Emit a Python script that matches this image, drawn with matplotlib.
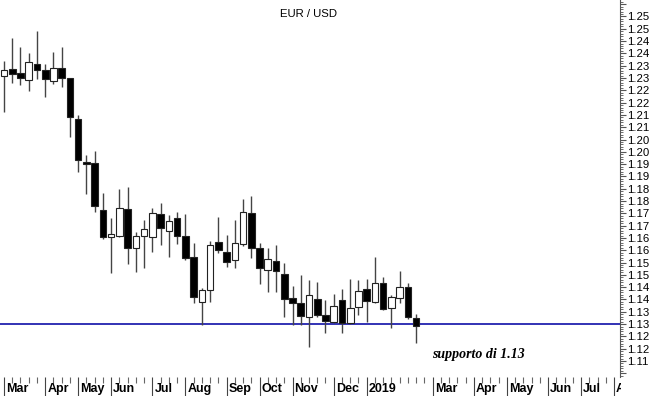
import math
import matplotlib
matplotlib.use("Agg")
import matplotlib.pyplot as plt
import matplotlib.dates as mdates
import matplotlib.transforms as mtransforms
from matplotlib.patches import Rectangle
import pandas as pd
from matplotlib.ticker import MultipleLocator, FuncFormatter

plt.rcParams['font.family'] = ['Liberation Sans', 'DejaVu Sans']

# settimane (venerdi) e prezzi OHLC
weeks = pd.date_range("2018-03-02", periods=51, freq="W-FRI")
opens = [1.2307, 1.2335, 1.2319, 1.2293, 1.2357, 1.2333, 1.2287, 1.2339, 1.2299, 1.2133,
         1.1957, 1.1953, 1.1763, 1.1652, 1.1658, 1.1767, 1.1608, 1.1659, 1.1652, 1.1747,
         1.1678, 1.1730, 1.1659, 1.1571, 1.1388, 1.1438, 1.1632, 1.1594, 1.1560, 1.1624,
         1.1750, 1.1608, 1.1520, 1.1556, 1.1503, 1.1404, 1.1387, 1.1327, 1.1400, 1.1337,
         1.1309, 1.1398, 1.1303, 1.1368, 1.1442, 1.1391, 1.1465, 1.1366, 1.1404, 1.1449,
         1.1323]
closes = [1.2331, 1.2317, 1.2301, 1.2365, 1.2334, 1.2295, 1.2342, 1.2301, 1.2140, 1.1967,
          1.1949, 1.1780, 1.1652, 1.1666, 1.1770, 1.1610, 1.1659, 1.1686, 1.1750, 1.1689,
          1.1719, 1.1659, 1.1567, 1.1409, 1.1438, 1.1621, 1.1601, 1.1553, 1.1628, 1.1754,
          1.1610, 1.1526, 1.1563, 1.1517, 1.1402, 1.1384, 1.1333, 1.1418, 1.1337, 1.1312,
          1.1373, 1.1305, 1.1364, 1.1434, 1.1393, 1.1465, 1.1360, 1.1411, 1.1452, 1.1327,
          1.1292]
highs = [1.2369, 1.2461, 1.2427, 1.2403, 1.2491, 1.2356, 1.2407, 1.2425, 1.2302, 1.2150,
         1.1987, 1.2004, 1.1831, 1.1730, 1.1848, 1.1858, 1.1675, 1.1723, 1.1770, 1.1793,
         1.1743, 1.1754, 1.1746, 1.1628, 1.1445, 1.1639, 1.1736, 1.1662, 1.1723, 1.1807,
         1.1820, 1.1630, 1.1610, 1.1621, 1.1549, 1.1454, 1.1499, 1.1479, 1.1472, 1.1398,
         1.1421, 1.1441, 1.1482, 1.1479, 1.1482, 1.1571, 1.1492, 1.1418, 1.1517, 1.1468,
         1.1339]
lows = [1.2163, 1.2281, 1.2272, 1.2248, 1.2296, 1.2224, 1.2274, 1.2262, 1.2061, 1.1917,
        1.1827, 1.1755, 1.1644, 1.1509, 1.1655, 1.1543, 1.1510, 1.1526, 1.1594, 1.1621,
        1.1574, 1.1625, 1.1560, 1.1384, 1.1296, 1.1391, 1.1587, 1.1530, 1.1526, 1.1618,
        1.1567, 1.1463, 1.1431, 1.1431, 1.1330, 1.1296, 1.1296, 1.1208, 1.1330, 1.1262,
        1.1305, 1.1265, 1.1300, 1.1337, 1.1309, 1.1384, 1.1357, 1.1285, 1.1387, 1.1320,
        1.1224]

support = 1.13
month_starts = ["2018-03-02", "2018-04-06", "2018-05-04", "2018-06-01", "2018-07-06",
                "2018-08-03", "2018-09-07", "2018-10-05", "2018-11-02", "2018-12-07",
                "2019-01-04", "2019-03-01", "2019-04-05", "2019-05-03", "2019-06-07",
                "2019-07-05", "2019-08-02"]
month_labels = ["Mar", "Apr", "May", "Jun", "Jul", "Aug", "Sep", "Oct", "Nov", "Dec",
                "2019", "Mar", "Apr", "May", "Jun", "Jul", "Aug"]

fig = plt.figure(figsize=(6.5, 3.96), dpi=100)
ax = fig.add_axes([0, 19 / 396, 620 / 650, 377 / 396])

x = mdates.date2num(weeks)
x0 = x[0]

# candele
ax.vlines(x, lows, highs, color="#444444", lw=1, zorder=2)
bottoms = [min(o, c) for o, c in zip(opens, closes)]
heights = [abs(c - o) for o, c in zip(opens, closes)]
colors = ["white" if c > o else "black" for o, c in zip(opens, closes)]
ax.bar(x, heights, bottom=bottoms, width=5.6, color=colors, edgecolor="#222222",
       linewidth=0.8, zorder=3)

ax.axhline(support, color="#3232b4", lw=1.4, zorder=1)

ax.text(x0 + 363.4, support - 0.0122, "supporto di 1.13", family="Liberation Serif",
        fontsize=10, fontweight="bold", fontstyle="italic", ha="left", va="center")

fig.text(308 / 650, 1 - 14 / 396, "EUR / USD", fontsize=8.2, ha="center", va="center")


def ylab(v, p):
    # etichette troncate a 2 decimali, niente agli estremi
    if v < 1.1125 or v > 1.2575:
        return ""
    return "%.2f" % (math.floor(v * 100 + 1e-6) / 100)


# asse y a destra
ax.yaxis.tick_right()
ax.yaxis.set_major_locator(MultipleLocator(0.005))
ax.yaxis.set_minor_locator(MultipleLocator(0.001))
ax.yaxis.set_major_formatter(FuncFormatter(ylab))
ax.tick_params(axis="y", which="major", length=4, width=0.8, color="#555555",
               labelsize=8.2, pad=1)
ax.tick_params(axis="y", which="minor", length=2, width=0.6, color="#555555")

# asse x: tacche settimanali, lunghe a inizio mese
majors = mdates.date2num(pd.to_datetime(month_starts))
all_weeks = mdates.date2num(pd.date_range("2018-03-02", "2019-08-30", freq="W-FRI"))
ax.set_xticks(majors)
ax.set_xticks([w for w in all_weeks if w not in majors], minor=True)
ax.set_xticklabels([])
ax.tick_params(axis="x", which="major", length=14, width=0.8, color="#444444")
ax.tick_params(axis="x", which="minor", length=4, width=0.8, color="#666666")

# limiti dopo set_xticks (che li allarga)
ax.set_xlim(x0 - 3.4, x0 + 523.1)
ax.set_ylim(1.1085, 1.2617)

for s in ["top", "left", "bottom"]:
    ax.spines[s].set_visible(False)
ax.spines["right"].set_color("#555555")
ax.spines["right"].set_linewidth(0.8)

trans = mtransforms.blended_transform_factory(ax.transData, ax.transAxes) + \
    mtransforms.ScaledTranslation(2 / 100, -12 / 100, fig.dpi_scale_trans)
for m, lab in zip(majors, month_labels):
    ax.text(m, 0, lab, transform=trans, fontsize=9, fontweight="bold",
            ha="left", va="center", clip_on=False)

# l'ultima etichetta e' tagliata dal bordo dell'asse
fig.add_artist(Rectangle((620.5 / 650, 0), 30 / 650, 18 / 396, transform=fig.transFigure,
                         facecolor="white", edgecolor="none", zorder=5))

fig.savefig("out.png", dpi=100)
